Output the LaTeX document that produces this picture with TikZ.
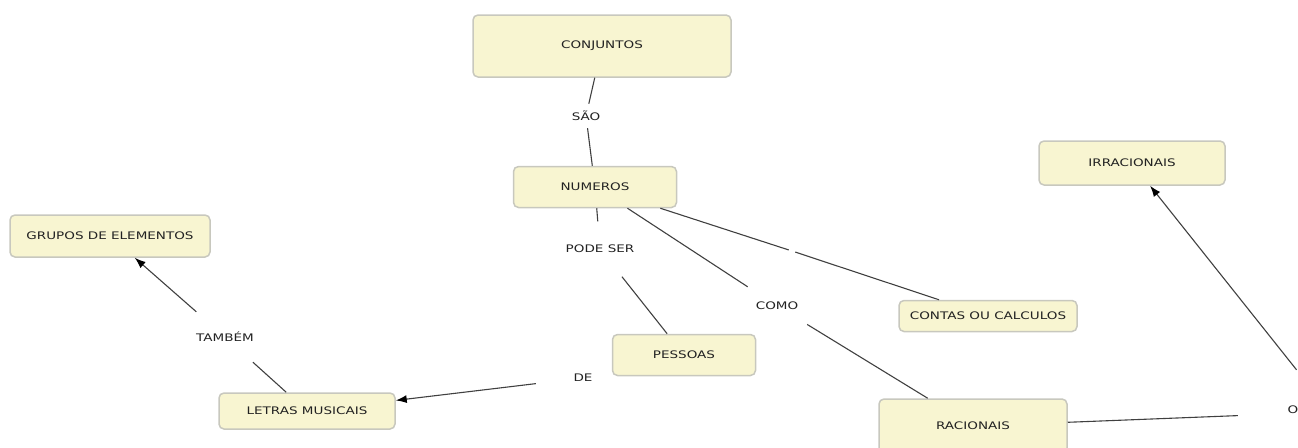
\documentclass[tikz,border=0pt]{standalone}
\usepackage{fontspec}
\usetikzlibrary{arrows.meta}
\newfontfamily\mapfont[FakeStretch=1.3]{DejaVu Sans}
\definecolor{boxfill}{HTML}{F8F5D1}
\definecolor{boxedge}{HTML}{C8C8BE}
\definecolor{linkline}{HTML}{404040}
\definecolor{labeltext}{HTML}{222222}
\begin{document}
\begin{tikzpicture}[x=1pt,y=-1pt,
  concept/.style={draw=boxedge, fill=boxfill, line width=1.5pt, rounded corners=5pt,
    inner sep=0pt, align=center, text=labeltext, font=\mapfont\fontsize{10.4}{12}\selectfont},
  linking/.style={inner sep=0pt, text=labeltext, font=\mapfont\fontsize{10.4}{12}\selectfont},
  conn/.style={draw=linkline, line width=1.1pt},
  arrowconn/.style={conn, -{Latex[length=11pt,width=8pt,black]}}]
\useasboundingbox (0,0) rectangle (1298,447);

% concepts
\node[concept, minimum width=258pt, minimum height=62pt] (conj)   at (602,46)  {CONJUNTOS};
\node[concept, minimum width=163pt, minimum height=41pt] (num)    at (595,187) {NUMEROS};
\node[concept, minimum width=200pt, minimum height=42pt] (grupos) at (110,236) {GRUPOS DE ELEMENTOS};
\node[concept, minimum width=176pt, minimum height=36pt] (letras) at (307,411) {LETRAS MUSICAIS};
\node[concept, minimum width=143pt, minimum height=41pt] (pess)   at (684,355) {PESSOAS};
\node[concept, minimum width=178pt, minimum height=31pt] (contas) at (988,316) {CONTAS OU CALCULOS};
\node[concept, minimum width=186pt, minimum height=44pt] (irrac)  at (1132,163) {IRRACIONAIS};
\node[concept, minimum width=188pt, minimum height=54pt] (rac)    at (973,426) {RACIONAIS};

% linking phrases
\node[linking, minimum width=40pt,  minimum height=24pt] (sao)    at (586,116) {SÃO};
\node[linking, minimum width=100pt, minimum height=55pt] (pode)   at (600,249) {PODE SER};
\node[linking, minimum width=60pt,  minimum height=38pt] (como)   at (777,306) {COMO};
\node[linking, minimum width=6pt,   minimum height=4pt]  (vazio)  at (792,251) {};
\node[linking, minimum width=60pt,  minimum height=50pt] (tambem) at (225,337) {TAMBÉM};
\node[linking, minimum width=94pt,  minimum height=20pt] (de)     at (583,378) {DE};
\node[linking, minimum width=184pt, minimum height=84pt] (ou)     at (1330,412) {};
\node[linking] (otext) at (1293,410) {O};

% connectors
\draw[conn] (conj) -- (sao);
\draw[conn] (sao) -- (num);
\draw[conn] (num) -- (pode);
\draw[conn] (pode) -- (pess);
\draw[conn] (num) -- (como);
\draw[conn] (como) -- (rac);
\draw[conn] (num) -- (vazio);
\draw[conn] (vazio) -- (contas);
\draw[conn] (letras) -- (tambem);
\draw[arrowconn] (tambem) -- (grupos);
\draw[arrowconn] (de) -- (letras);
\draw[conn] (rac) -- (ou);
\draw[arrowconn] (ou) -- (irrac);
\end{tikzpicture}
\end{document}
